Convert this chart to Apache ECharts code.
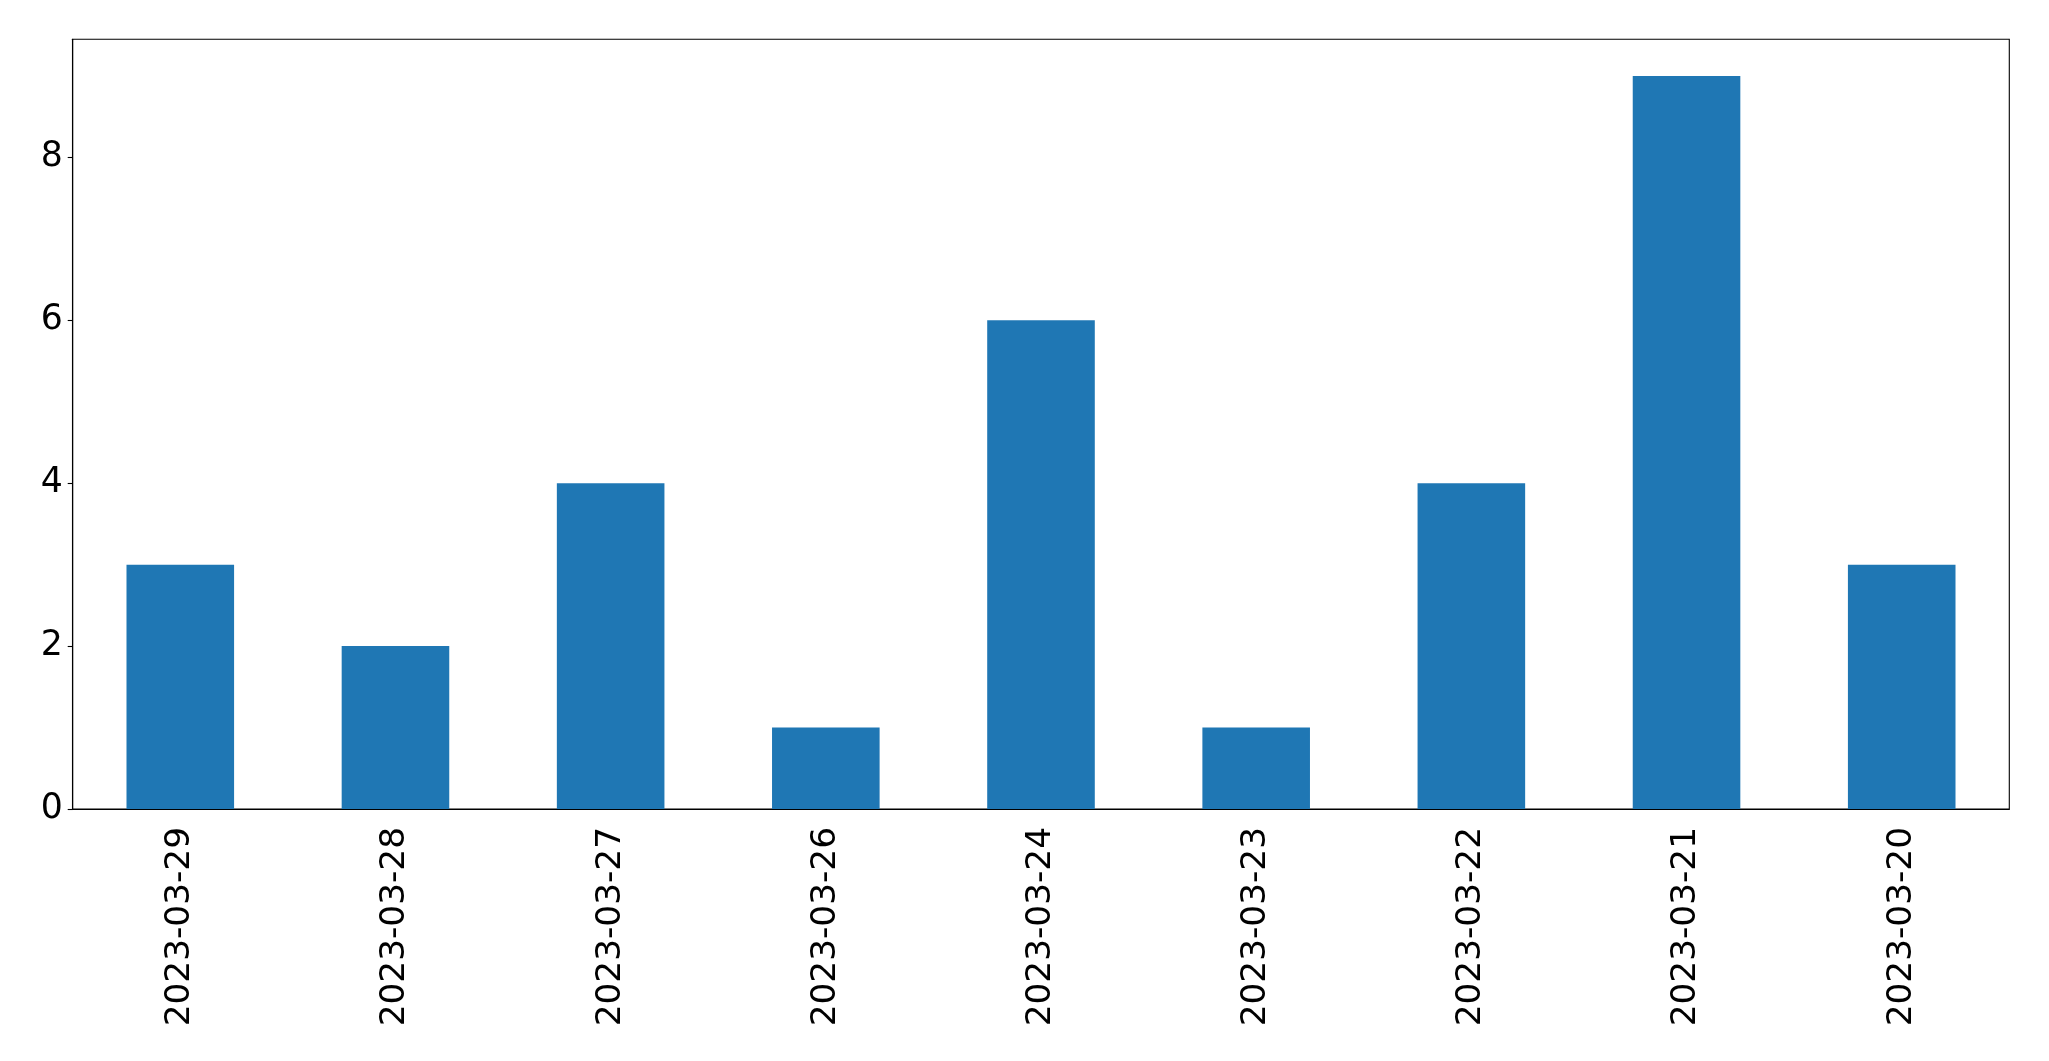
<!DOCTYPE html>
<html>
<head>
<meta charset="utf-8">
<script src="https://cdn.jsdelivr.net/npm/echarts@6/dist/echarts.min.js"></script>
<style>html,body{margin:0;padding:0;background:#fff;}#c{width:2049px;height:1061px;}</style>
</head>
<body>
<div id="c"></div>
<script>
const categories = ['2023-03-29','2023-03-28','2023-03-27','2023-03-26','2023-03-24','2023-03-23','2023-03-22','2023-03-21','2023-03-20'];
const values = [3,2,4,1,6,1,4,9,3];
const yTicks = [0,2,4,6,8];

const chart = echarts.init(document.getElementById('c'), null, {renderer:'canvas'});
chart.setOption({
  animation: false,
  backgroundColor: '#ffffff',
  grid: {left: 72.7, right: 39.7, top: 39.3, bottom: 252, show: true, borderColor: '#000', borderWidth: 1.1, backgroundColor: 'transparent'},
  xAxis: {
    type: 'category', data: categories, boundaryGap: true,
    axisLine: {lineStyle: {color: '#000', width: 1.1}},
    axisTick: {alignWithLabel: true, length: 5, lineStyle: {color: '#000', width: 1.1}},
    axisLabel: {rotate: 90, margin: 18, fontFamily: 'DejaVu Sans', fontSize: 34.3, color: '#000', interval: 0}
  },
  yAxis: {
    type: 'value', min: 0, max: 9.45, interval: 2,
    splitLine: {show: false},
    axisLine: {show: true, lineStyle: {color: '#000', width: 1.1}},
    axisTick: {show: true, length: 5, customValues: yTicks, lineStyle: {color: '#000', width: 1.1}},
    axisLabel: {margin: 10, fontFamily: 'DejaVu Sans', fontSize: 34.7, color: '#000',
      customValues: yTicks,
      padding: [4, 0, 0, 0]}
  },
  series: [{type: 'bar', data: values, barWidth: '50%', itemStyle: {color: '#1f77b4'}}]
});
</script>
</body>
</html>
